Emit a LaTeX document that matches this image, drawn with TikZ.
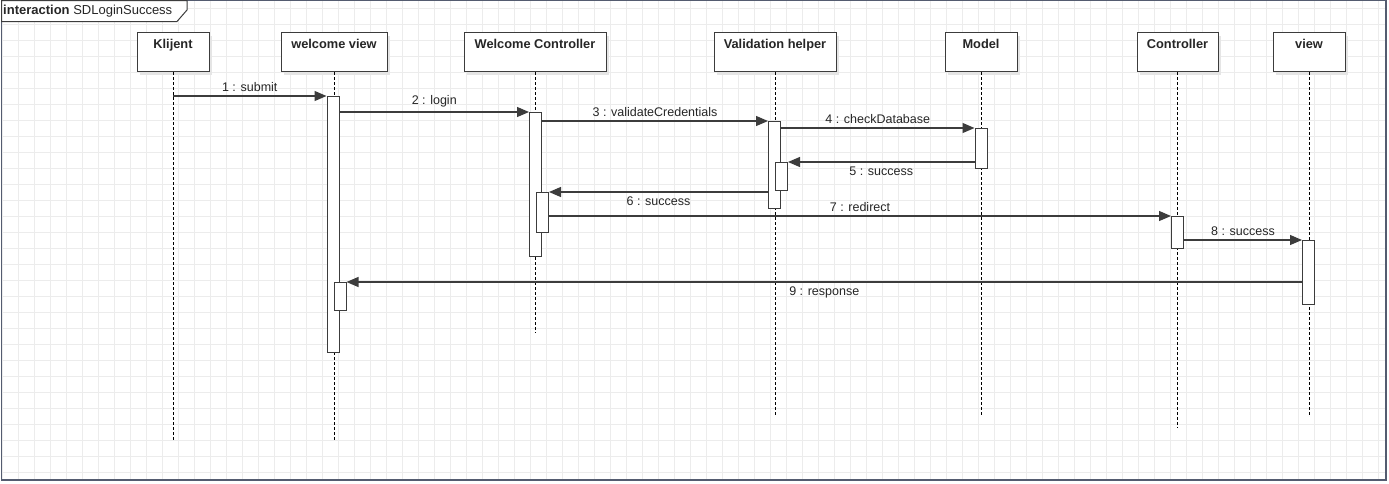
\documentclass[tikz,border=0pt]{standalone}
\usepackage{fontspec}
\setmainfont{Liberation Sans}
\usetikzlibrary{arrows.meta, positioning, shadows}
\definecolor{linec}{RGB}{60,60,60}
\definecolor{gridc}{RGB}{236,236,236}
\definecolor{framec}{RGB}{84,92,112}

\begin{document}
\begin{tikzpicture}[x=1pt, y=-1pt, every node/.style={font=\fontsize{12.5}{14}\selectfont, text=black!85}]
\tikzset{lbox/.style={draw=linec, line width=1pt, fill=white, inner xsep=0pt, inner ysep=4pt, text height=12pt, text depth=19pt, minimum height=39pt, anchor=north, font=\fontsize{12.8}{14}\selectfont\bfseries,
    drop shadow={shadow xshift=3pt, shadow yshift=-3pt, fill=black!10, opacity=1}},
  actbar/.style={draw=linec, line width=1pt, fill=white, inner sep=0pt, minimum width=12pt, anchor=north},
  lifel/.style={draw=black, line width=0.8pt, dash pattern=on 3pt off 2pt},
  msg/.style={draw=linec, line width=1.2pt, -{Triangle[length=12pt, width=10pt]}},
  gridl/.style={draw=gridc, line width=0.6pt}}
\useasboundingbox (0,0) rectangle (1389,483);
\fill[white] (0,0) rectangle (1389,483);
% grid
\foreach \gx in {2,18,...,1386} \draw[gridl] (\gx,0) -- (\gx,480);
\foreach \gy in {8.5,24.5,...,480} \draw[gridl] (1.5,\gy) -- (1386,\gy);
% frame
\draw[framec, line width=1.5pt] (1.5,0.5) rectangle (1386,480);
\draw[linec, line width=1pt, fill=white] (1.5,0.5) -- (187,0.5) -- (187,10) -- (177,21.5) -- (1.5,21.5) -- cycle;
\node[anchor=west, inner sep=0pt, font=\fontsize{13}{14}\selectfont] (title) at (3,11) {\textbf{interaction} SDLoginSuccess};
% lifeline heads
\node[lbox, minimum width=72pt] (kl) at (173,32) {Klijent};
\node[lbox, minimum width=106pt] (wv) at (334,32) {welcome view};
\node[lbox, minimum width=142pt] (wc) at (535,32) {Welcome Controller};
\node[lbox, minimum width=122pt] (vh) at (775,32) {Validation helper};
\node[lbox, minimum width=72pt] (md) at (981,32) {Model};
\node[lbox, minimum width=81pt] (ct) at (1177.5,32) {Controller};
\node[lbox, minimum width=72pt] (vw) at (1309,32) {view};
% lifelines
\draw[lifel] (kl.south) -- (kl.south |- 0,440);
\draw[lifel] (wv.south) -- (wv.south |- 0,440);
\draw[lifel] (wc.south) -- (wc.south |- 0,333);
\draw[lifel] (vh.south) -- (vh.south |- 0,415);
\draw[lifel] (md.south) -- (md.south |- 0,415);
\draw[lifel] (ct.south) -- (ct.south |- 0,428);
\draw[lifel] (vw.south) -- (vw.south |- 0,415);
% activations
\node[actbar, minimum height=256pt] (wv1) at (333,96) {};
\node[actbar, minimum height=28pt] (wv2) at (340,282) {};
\node[actbar, minimum height=144pt] (wc1) at (535.5,112) {};
\node[actbar, minimum height=40pt] (wc2) at (542.5,192) {};
\node[actbar, minimum height=87pt] (vh1) at (774.5,121) {};
\node[actbar, minimum height=28pt] (vh2) at (781.5,162) {};
\node[actbar, minimum height=40pt] (md1) at (981,128) {};
\node[actbar, minimum height=32pt] (ct1) at (1177.5,216) {};
\node[actbar, minimum height=64pt] (vw1) at (1308.5,240) {};
% messages
\draw[msg] (kl.south |- wv1.north) -- node[above, inner sep=4pt]{1 : submit} (wv1.north west);
\draw[msg] (wv1.north east |- wc1.north) -- node[above, inner sep=4pt]{2 : login} (wc1.north west);
\draw[msg] (wc1.east |- vh1.north) -- node[above, inner sep=4pt]{3 : validateCredentials} (vh1.north west);
\draw[msg] (vh1.east |- md1.north) -- node[above, inner sep=4pt]{4 : checkDatabase} (md1.north west);
\draw[msg] (md1.west |- vh2.north) -- node[below, inner sep=4pt]{5 : success} (vh2.north east);
\draw[msg] (vh1.west |- wc2.north) -- node[below, inner sep=4pt]{6 : success} (wc2.north east);
\draw[msg] (wc2.east |- ct1.north) -- node[above, inner sep=4pt]{7 : redirect} (ct1.north west);
\draw[msg] (ct1.east |- vw1.north) -- node[above, inner sep=4pt]{8 : success} (vw1.north west);
\draw[msg] (vw1.west |- wv2.north) -- node[below, inner sep=4pt]{9 : response} (wv2.north east);
\end{tikzpicture}
\end{document}
